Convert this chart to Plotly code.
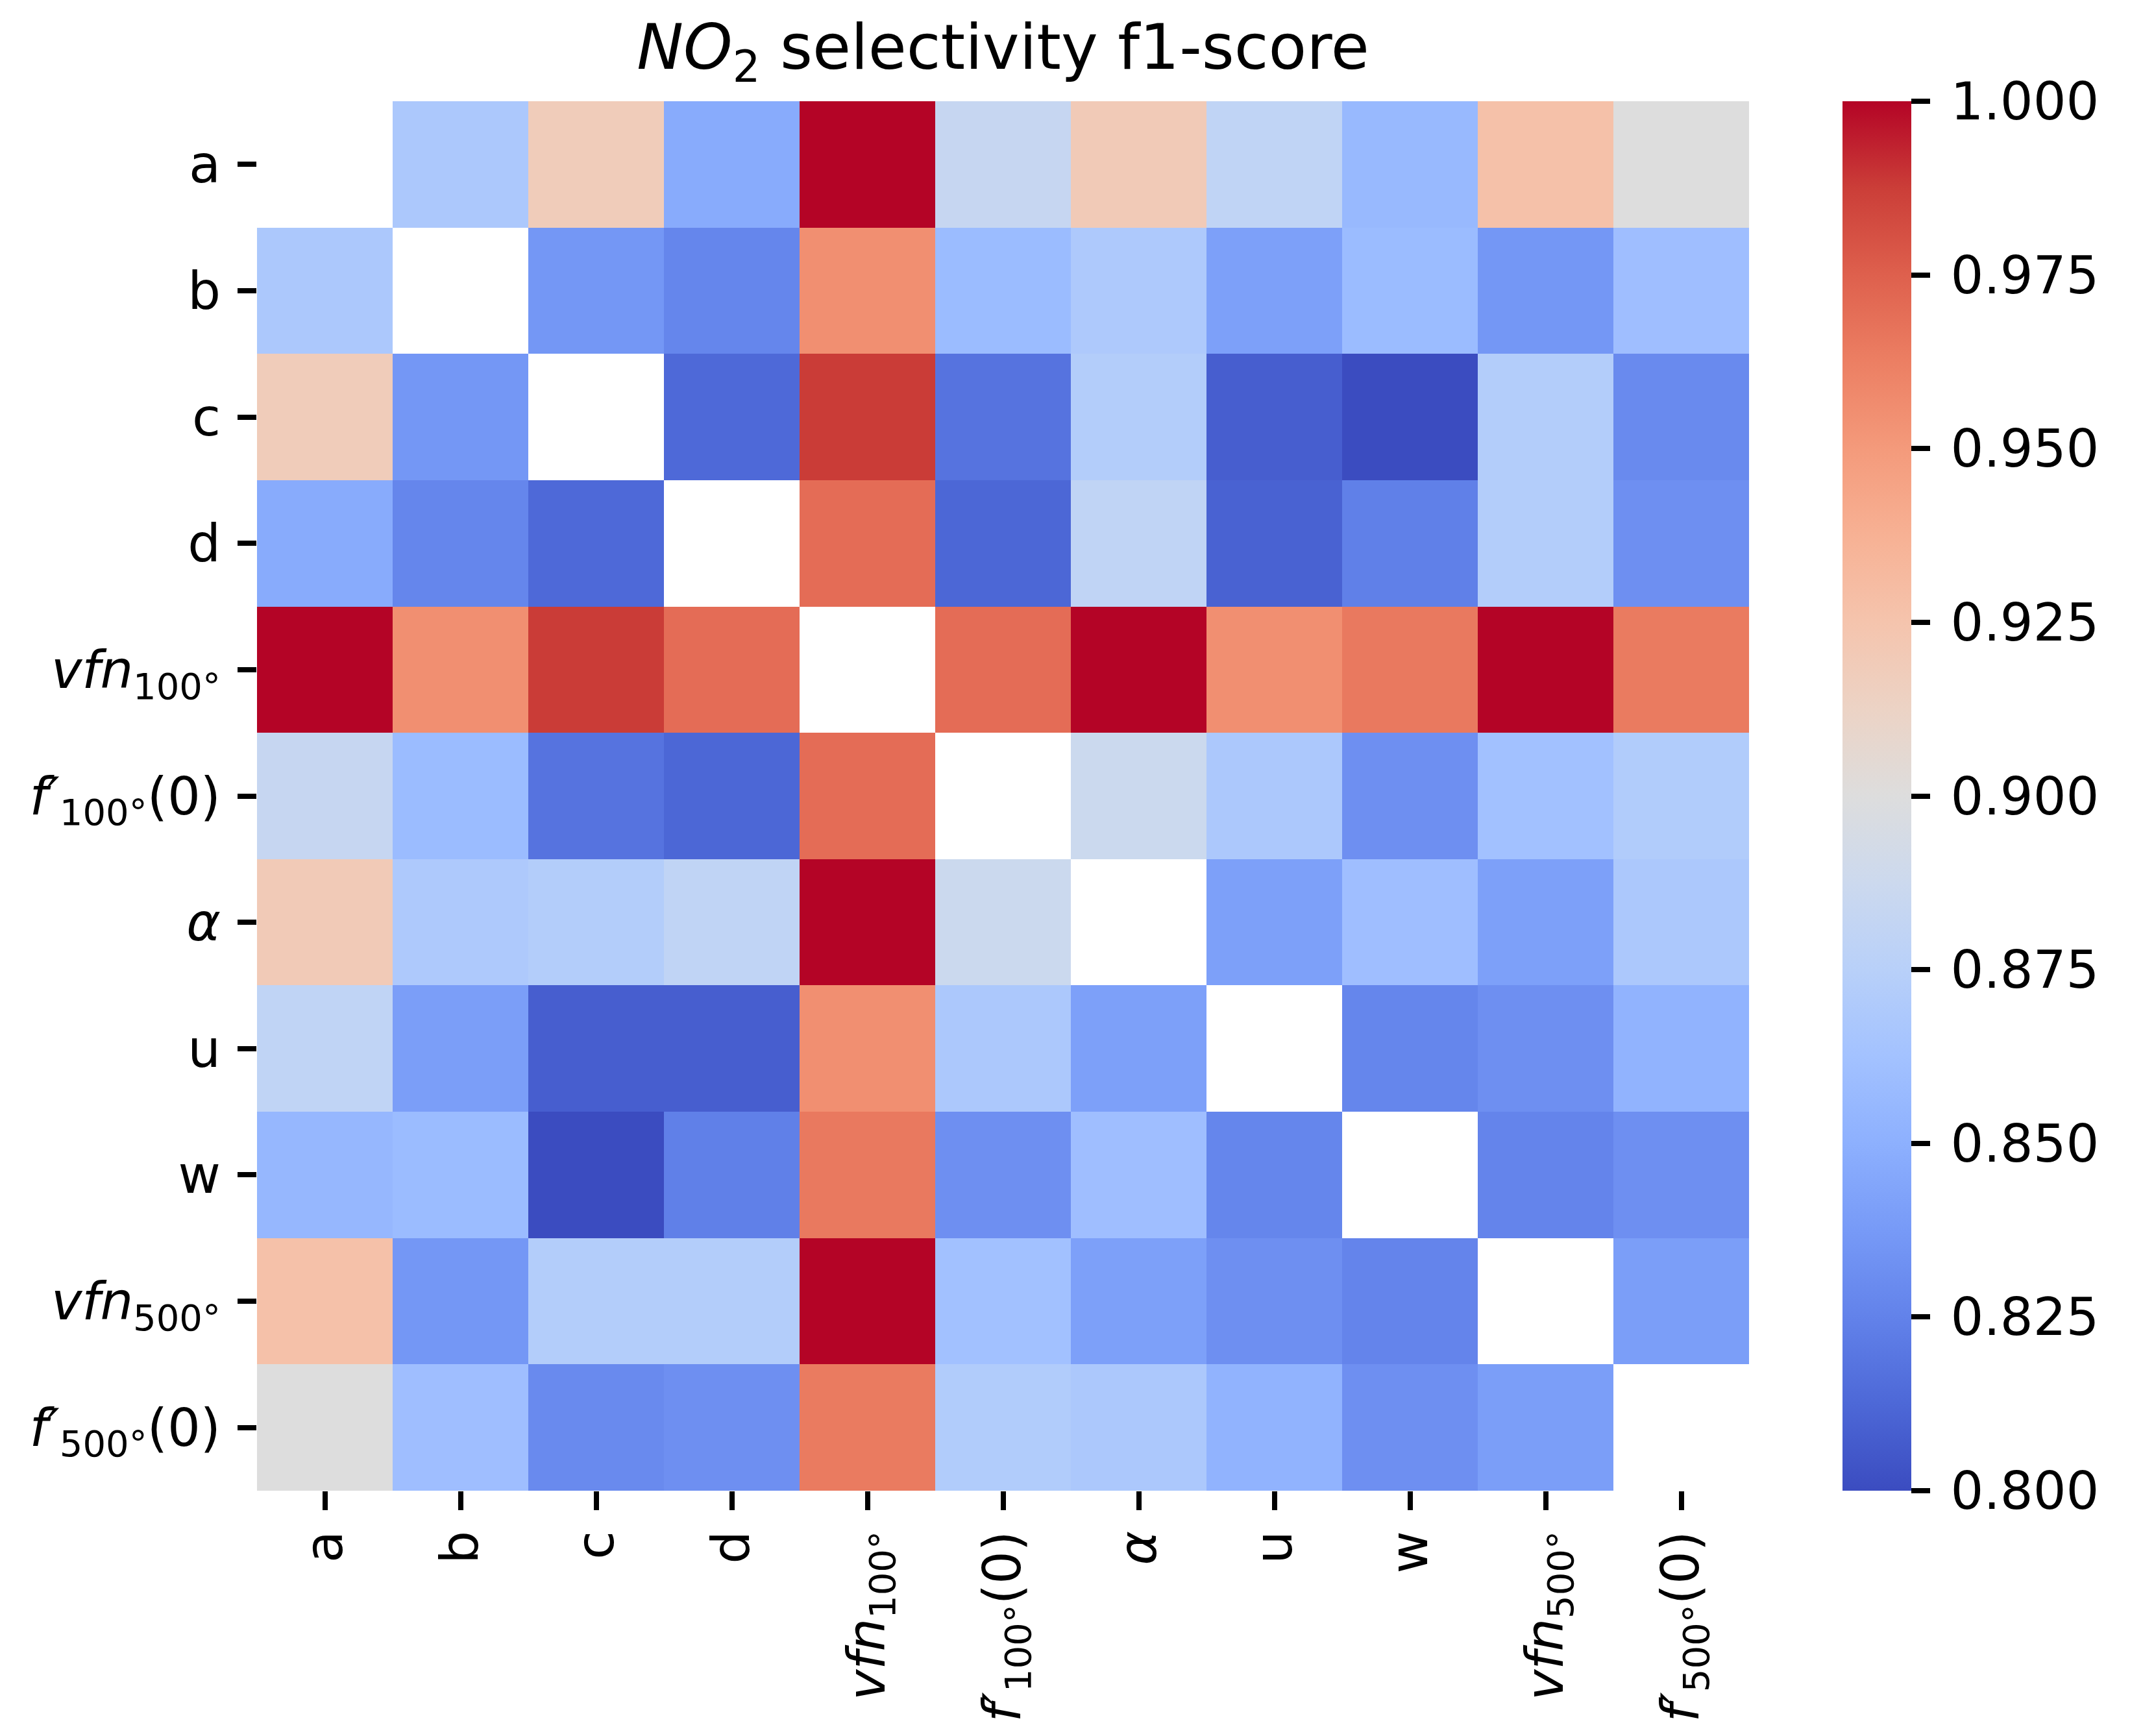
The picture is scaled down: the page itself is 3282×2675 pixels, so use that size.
import plotly.graph_objects as go

# row / column labels (same order on both axes)
labels = [
    "a", "b", "c", "d",
    "<i>vfn</i><sub>100°</sub>",
    "<i>f′</i><sub>100°</sub>(0)",
    "<i>α</i>",
    "u", "w",
    "<i>vfn</i><sub>500°</sub>",
    "<i>f′</i><sub>500°</sub>(0)",
]

# f1-scores, None on the diagonal
row_a = [None, 0.868, 0.918, 0.847, 1.000, 0.884, 0.920, 0.880, 0.856, 0.927, 0.900]
row_b = [0.868, None, 0.836, 0.827, 0.955, 0.858, 0.869, 0.841, 0.858, 0.836, 0.860]
row_c = [0.918, 0.836, None, 0.813, 0.988, 0.818, 0.872, 0.808, 0.800, 0.872, 0.829]
row_d = [0.847, 0.827, 0.813, None, 0.970, 0.812, 0.880, 0.810, 0.824, 0.872, 0.832]
row_vfn100 = [1.000, 0.955, 0.988, 0.970, None, 0.970, 1.000, 0.955, 0.965, 1.000, 0.964]
row_f100 = [0.884, 0.858, 0.818, 0.812, 0.970, None, 0.887, 0.868, 0.832, 0.862, 0.871]
row_alpha = [0.920, 0.869, 0.872, 0.880, 1.000, 0.887, None, 0.841, 0.860, 0.841, 0.868]
row_u = [0.880, 0.840, 0.808, 0.808, 0.955, 0.868, 0.841, None, 0.827, 0.832, 0.852]
row_w = [0.855, 0.858, 0.800, 0.824, 0.965, 0.832, 0.860, 0.827, None, 0.826, 0.832]
row_vfn500 = [0.927, 0.836, 0.872, 0.872, 1.000, 0.862, 0.841, 0.832, 0.826, None, 0.840]
row_f500 = [0.900, 0.860, 0.829, 0.832, 0.964, 0.871, 0.868, 0.852, 0.832, 0.840, None]

z = [row_a, row_b, row_c, row_d, row_vfn100, row_f100,
     row_alpha, row_u, row_w, row_vfn500, row_f500]

cbar_ticks = [0.800, 0.825, 0.850, 0.875, 0.900, 0.925, 0.950, 0.975, 1.000]

# matplotlib "coolwarm"
coolwarm = [
    [0.0, "rgb(59,76,192)"], [0.0625, "rgb(77,104,215)"], [0.125, "rgb(98,130,234)"],
    [0.1875, "rgb(119,154,247)"], [0.25, "rgb(141,176,254)"], [0.3125, "rgb(163,194,255)"],
    [0.375, "rgb(184,208,249)"], [0.4375, "rgb(204,217,238)"], [0.5, "rgb(221,221,221)"],
    [0.5625, "rgb(236,211,197)"], [0.625, "rgb(245,196,173)"], [0.6875, "rgb(247,177,148)"],
    [0.75, "rgb(244,154,123)"], [0.8125, "rgb(236,127,99)"], [0.875, "rgb(222,96,77)"],
    [0.9375, "rgb(203,62,56)"], [1.0, "rgb(180,4,38)"],
]

idx = list(range(len(labels)))
font = dict(family="DejaVu Sans", size=80, color="black")
tick_style = dict(ticks="outside", ticklen=29, tickwidth=8, tickcolor="black")

# padded colorbar labels so they sit a bit away from the ticks
cbar_text = ["\u2009" + f"{v:.3f}" for v in cbar_ticks]

fig = go.Figure()
fig.add_trace(
    go.Heatmap(
        z=z,
        x=idx,
        y=idx,
        colorscale=coolwarm,
        zmin=0.8,
        zmax=1.0,
        colorbar=dict(
            x=1.0626,
            xanchor="left",
            xpad=0,
            y=0.5,
            yanchor="middle",
            ypad=0,
            len=1.0,
            thickness=106,
            outlinewidth=0,
            tickvals=cbar_ticks,
            ticktext=cbar_text,
            tickfont=font,
            **tick_style,
        ),
    )
)

fig.update_layout(
    width=3282,
    height=2675,
    margin=dict(l=388, r=595, t=148, b=386),
    plot_bgcolor="white",
    paper_bgcolor="white",
    font=font,
    title=dict(
        text="<i>NO</i><sub>2</sub> selectivity f1-score",
        x=0.5,
        xref="paper",
        xanchor="center",
        y=0.976,
        yanchor="middle",
        font=dict(family="DejaVu Sans", size=96, color="black"),
    ),
    xaxis=dict(
        tickvals=idx,
        ticktext=labels,
        tickangle=-90,
        range=[-0.5, 10.5],
        showgrid=False,
        zeroline=False,
        showline=False,
        tickfont=font,
        **tick_style,
    ),
    yaxis=dict(
        tickvals=idx,
        ticktext=labels,
        range=[10.5, -0.5],
        showgrid=False,
        zeroline=False,
        showline=False,
        tickfont=font,
        ticklabelstandoff=10,
        **tick_style,
    ),
)

fig.write_html("out.html")
